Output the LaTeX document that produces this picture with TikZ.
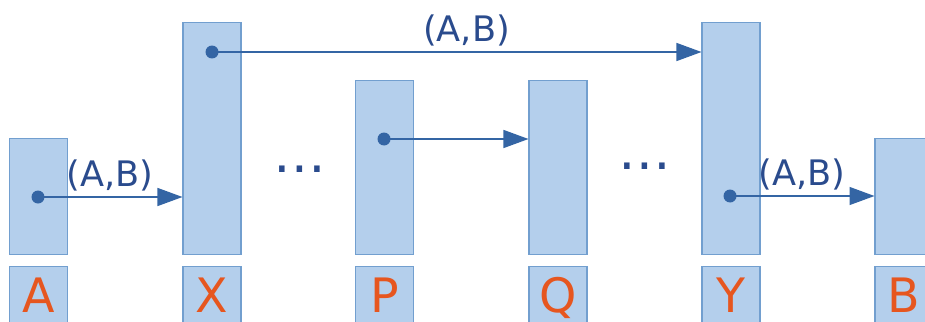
\documentclass[tikz,border=0pt]{standalone}
\usepackage{fontspec}
\setmainfont{DejaVu Sans}
\usetikzlibrary{arrows.meta}
\definecolor{cellblue}{HTML}{B4CFEC}
\definecolor{edgeblue}{HTML}{729FCF}
\definecolor{linkblue}{HTML}{3465A4}
\definecolor{textblue}{HTML}{2A4B8D}
\definecolor{nameorange}{HTML}{E6561F}

\begin{document}
\begin{tikzpicture}[x=0.02cm, y=-0.02cm, semithick,
col/.style={rectangle, draw=edgeblue, fill=cellblue, minimum width=1.16cm,
inner sep=0, anchor=south},
tag/.style={col, anchor=north, minimum height=1.12cm, text=nameorange,
font=\fontsize{27}{30}\selectfont, text height=0.7cm, text depth=0cm},
ptr/.style={circle, fill=linkblue, minimum size=0.26cm, inner sep=0},
link/.style={draw=linkblue, line width=0.75pt,
-{Triangle[length=0.5cm,width=0.36cm]}},
pair/.style={text=textblue, font=\fontsize{20}{24}\selectfont, above,
inner sep=0.1cm},
gap/.style={text=textblue, font=\fontsize{30}{30}\selectfont, inner sep=0}]
  \useasboundingbox (0,0) rectangle (925,321);
  \clip (0,0) rectangle (925,321);
  % 6 column boxes
  \node[col, minimum height=2.32cm] (A) at (38.5,255) {};
  \node[col, minimum height=4.64cm] (X) at (212,255)  {};
  \node[col, minimum height=3.48cm] (P) at (384.5,255) {};
  \node[col, minimum height=3.48cm] (Q) at (558,255)  {};
  \node[col, minimum height=4.64cm] (Y) at (731,255)  {};
  \node[col, minimum height=2.32cm] (B) at (904,255)  {};
  % name boxes below
  \node[tag] (tA) at (38.5,266) {A};
  \node[tag] (tX) at (212,266)  {X};
  \node[tag] (tP) at (384.5,266) {P};
  \node[tag] (tQ) at (558,266)  {Q};
  \node[tag] (tY) at (731,266)  {Y};
  \node[tag] (tB) at (904,266)  {B};
  % pointer dots
  \node[ptr] (dA) at (38,197)  {};
  \node[ptr] (dX) at (212,52)  {};
  \node[ptr] (dP) at (384,139) {};
  \node[ptr] (dY) at (730,196) {};
  % skipped columns
  \node[gap] (g1) at (300,169) {…};
  \node[gap] (g2) at (645,166) {…};

\foreach \from/\to/\where in {dA/X/0.5,dX/Y/0.52,dY/B/0.5}
    \draw[link] (\from.center) -- (\from -| \to.west)
      node[pair, pos=\where] {(A,B)};
\draw[link] (dP.center) -- (dP -| Q.west);
\end{tikzpicture}
\end{document}
